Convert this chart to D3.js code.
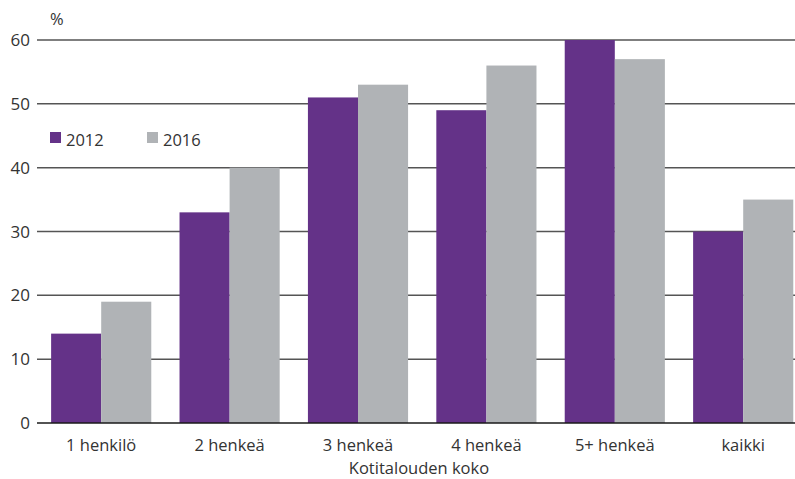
<!DOCTYPE html>
<html>
<head>
<meta charset="utf-8">
<script src="https://cdn.jsdelivr.net/npm/d3@7"></script>
<style>
  html, body { margin: 0; padding: 0; background: #fff; }
  svg text { font-family: "Open Sans", "Noto Sans", sans-serif; fill: #333; }
</style>
</head>
<body>
<svg id="chart" width="795" height="479"></svg>
<script>
// Household size categories and the share (%) for each survey year
const categories = ["1 henkilö", "2 henkeä", "3 henkeä", "4 henkeä", "5+ henkeä", "kaikki"];
const values2012 = [14, 33, 51, 49, 60, 30];
const values2016 = [19, 40, 53, 56, 57, 35];
const seriesNames = ["2012", "2016"];
const yTicks = [0, 10, 20, 30, 40, 50, 60];

const colors = { "2012": "#643288", "2016": "#b0b3b6" };

const svg = d3.select("#chart");
const W = 795;

const x0 = d3.scaleBand().domain(categories).range([37, 807.4])
  .paddingInner(0.22).paddingOuter(0.11);
const x1 = d3.scaleBand().domain(seriesNames).range([0, x0.bandwidth()]);
const y = d3.scaleLinear().domain([0, 60]).range([423, 40]);

// horizontal gridlines
svg.append("g").selectAll("line").data(yTicks.filter(d => d > 0)).join("line")
  .attr("x1", 37).attr("x2", W)
  .attr("y1", d => y(d)).attr("y2", d => y(d))
  .attr("stroke", "#555").attr("stroke-width", 1.5);

// y tick labels
svg.append("g").selectAll("text").data(yTicks).join("text")
  .attr("x", 30).attr("y", d => y(d)).attr("dy", "0.36em")
  .attr("text-anchor", "end").attr("font-size", 17)
  .text(d => d);

svg.append("text").attr("x", 50).attr("y", 25).attr("font-size", 16.5).text("%");

// bars
const rows = categories.map((c, i) => ({ cat: c, vals: [
  { key: "2012", v: values2012[i] }, { key: "2016", v: values2016[i] } ] }));

const groups = svg.append("g").selectAll("g").data(rows).join("g")
  .attr("transform", d => `translate(${x0(d.cat)},0)`);
groups.selectAll("rect").data(d => d.vals).join("rect")
  .attr("x", d => x1(d.key)).attr("width", x1.bandwidth())
  .attr("y", d => y(d.v)).attr("height", d => y(0) - y(d.v))
  .attr("fill", d => colors[d.key]);

// baseline
svg.append("line").attr("x1", 37).attr("x2", W)
  .attr("y1", y(0)).attr("y2", y(0))
  .attr("stroke", "#1a1a1a").attr("stroke-width", 1.6);

// category labels
svg.append("g").selectAll("text").data(categories).join("text")
  .attr("x", d => x0(d) + x0.bandwidth() / 2).attr("y", 451)
  .attr("text-anchor", "middle").attr("font-size", 16.5)
  .text(d => d);

svg.append("text").attr("x", 419).attr("y", 474)
  .attr("text-anchor", "middle").attr("font-size", 16.5)
  .text("Kotitalouden koko");

// legend
const legend = svg.append("g").selectAll("g").data(seriesNames).join("g")
  .attr("transform", (d, i) => `translate(${50 + i * 97},132)`);
legend.append("rect").attr("width", 11).attr("height", 11)
  .attr("fill", d => colors[d]);
legend.append("text").attr("x", 16).attr("y", 14).attr("font-size", 16.5)
  .text(d => d);
</script>
</body>
</html>
